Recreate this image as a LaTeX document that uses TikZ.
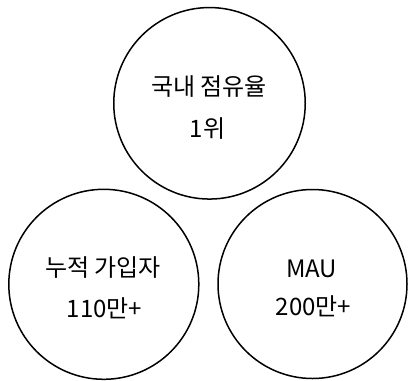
\documentclass[tikz,border=0pt]{standalone}
\usepackage{fontspec}
\newfontfamily\cjk{Noto Sans CJK KR}
\begin{document}
\begin{tikzpicture}[x=1pt,y=-1pt,
  ring/.style={draw=black,line width=1.5pt,circle,inner sep=0pt},
  lbl/.style={font=\cjk\fontsize{24}{28}\selectfont,inner sep=0pt,anchor=base}]
\useasboundingbox (0,0) rectangle (409,380);
\node[ring,minimum size=191.5pt] (top) at (209.5,103.3) {};
\node[ring,minimum size=190pt] (left) at (103.8,284.3) {};
\node[ring,minimum size=189pt] (right) at (312.5,284) {};
\node[lbl] (t1) at (209,95) {국내 점유율};
\node[lbl] (t2) at (207.5,137) {1위};
\node[lbl] (l1) at (103,276) {누적 가입자};
\node[lbl] (l2) at (104.5,317) {110만+};
\node[lbl] (r1) at (311.5,277) {MAU};
\node[lbl] (r2) at (313.5,315) {200만+};
\end{tikzpicture}
\end{document}
